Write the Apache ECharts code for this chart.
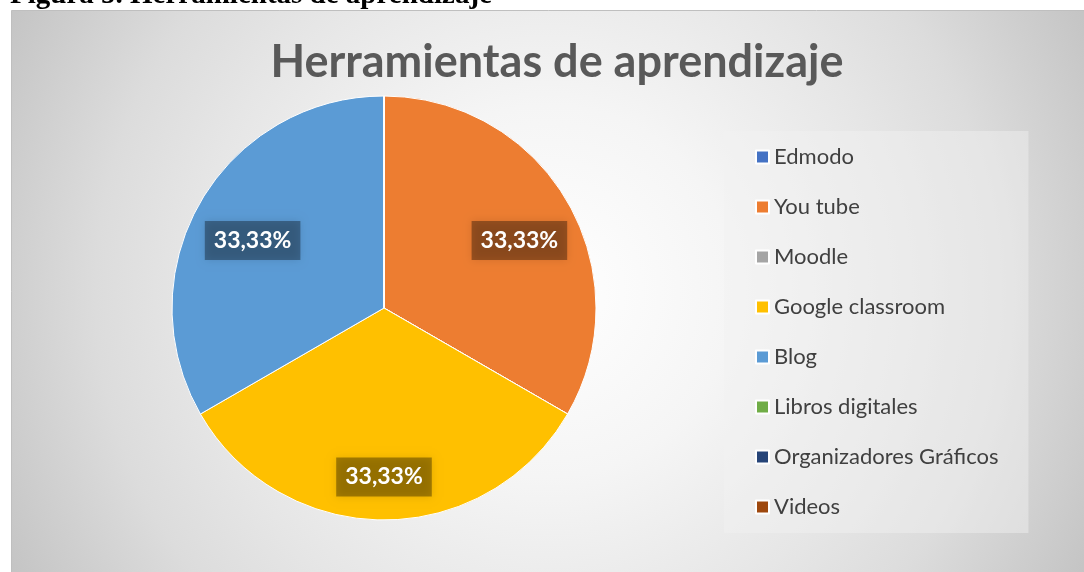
<!DOCTYPE html>
<html>
<head>
<meta charset="utf-8">
<script src="https://cdn.jsdelivr.net/npm/echarts@6/dist/echarts.min.js"></script>
<style>
  html, body { margin: 0; padding: 0; background: #fff; }
  #chart { width: 1084px; height: 572px; }
</style>
</head>
<body>
<div id="chart"></div>
<script>
// datos
const categories = ['Edmodo', 'You tube', 'Moodle', 'Google classroom', 'Blog', 'Libros digitales', 'Organizadores Gráficos', 'Videos'];
const values = [0, 1, 0, 1, 1, 0, 0, 0];
const colors = ['#4472c4', '#ed7d31', '#a5a5a5', '#ffc000', '#5b9bd5', '#70ad47', '#264478', '#9e480e'];
// desplazamiento de las etiquetas (solo posición)
const labelOffsets = [[0, 0], [41, -13], [0, 0], [0, 60], [-37, -13], [0, 0], [0, 0], [0, 0]];

const total = values.reduce((a, b) => a + b, 0);

const chart = echarts.init(document.getElementById('chart'));

const pieData = categories.map((name, i) => ({
  name: name,
  value: values[i],
  itemStyle: { color: colors[i] },
  label: { show: values[i] > 0, offset: labelOffsets[i] }
}));

const option = {
  backgroundColor: '#ffffff',
  animation: false,
  graphic: [
    {
      type: 'text',
      z: -20,
      style: {
        x: 10,
        y: -19,
        text: 'Figura 5. Herramientas de aprendizaje',
        font: 'bold 29px "Liberation Serif"',
        fill: '#000000'
      }
    },
    {
      type: 'rect',
      z: -10,
      shape: { x: 11.5, y: 10.5, width: 1080, height: 570 },
      style: {
        fill: {
          type: 'radial', global: true, x: 548, y: 291, r: 620,
          colorStops: [
            { offset: 0, color: '#ffffff' },
            { offset: 0.3, color: '#f5f5f5' },
            { offset: 0.57, color: '#e6e6e6' },
            { offset: 0.73, color: '#dcdcdc' },
            { offset: 0.98, color: '#c4c4c4' },
            { offset: 1, color: '#c2c2c2' }
          ]
        },
        stroke: '#bfbfbf',
        lineWidth: 1
      }
    }
  ],
  title: {
    text: 'Herramientas de aprendizaje',
    left: 552,
    top: 35,
    textAlign: 'center',
    textStyle: {
      fontFamily: 'Lato',
      fontWeight: 'bold',
      fontSize: 45,
      color: '#595959'
    }
  },
  legend: {
    orient: 'vertical',
    left: 724,
    top: 131,
    padding: [14, 30, 14, 31],
    backgroundColor: 'rgba(242,242,242,0.45)',
    itemWidth: 13,
    itemHeight: 13,
    itemGap: 26,
    icon: 'rect',
    selectedMode: false,
    data: categories,
    textStyle: {
      fontFamily: 'Lato',
      fontSize: 22,
      lineHeight: 24,
      color: '#404040'
    }
  },
  series: [
    {
      type: 'pie',
      center: [384, 308],
      radius: 212,
      startAngle: 90,
      silent: true,
      itemStyle: { borderColor: '#ffffff', borderWidth: 1 },
      label: {
        position: 'inside',
        formatter: p => (p.value / total * 100).toFixed(2).replace('.', ',') + '%',
        fontFamily: 'Lato',
        fontWeight: 'bold',
        fontSize: 23,
        color: '#ffffff',
        backgroundColor: 'rgba(0,0,0,0.34)',
        padding: [8, 9],
        shadowColor: 'rgba(0,0,0,0.34)',
        shadowBlur: 8
      },
      labelLine: { show: false },
      data: pieData
    }
  ]
};

chart.setOption(option);
</script>
</body>
</html>
